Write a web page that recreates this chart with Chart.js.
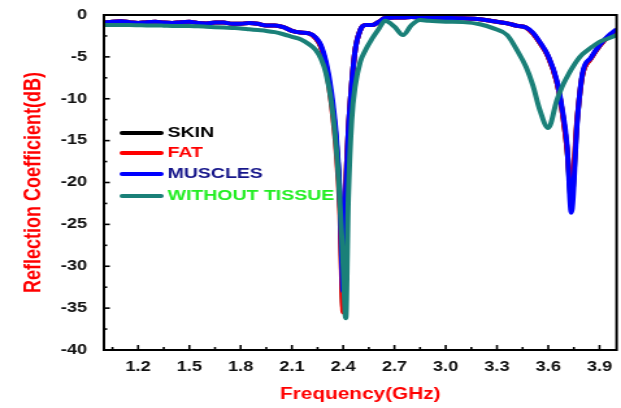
<!DOCTYPE html>
<html>
<head>
<meta charset="utf-8">
<script src="https://cdn.jsdelivr.net/npm/chart.js@4"></script>
<style>
  html, body { margin: 0; padding: 0; background: #fff; }
</style>
</head>
<body>
<!-- the source figure is stretched sideways, so the canvas is drawn narrow and widened by its style -->
<canvas id="chart" width="478" height="408" style="display:block;width:621px;height:408px"></canvas>
<script>
const freq = [
  1.00, 1.05, 1.10, 1.15, 1.20, 1.25, 1.30, 1.35, 1.40, 1.45,
  1.50, 1.55, 1.60, 1.65, 1.70, 1.75, 1.80, 1.85, 1.90, 1.95,
  2.00, 2.05, 2.10, 2.15, 2.20, 2.24, 2.27, 2.30, 2.33, 2.36,
  2.38, 2.40, 2.415, 2.43, 2.45, 2.47, 2.50, 2.53, 2.57, 2.61,
  2.645, 2.70, 2.75, 2.80, 2.85, 2.90, 3.00, 3.10, 3.20, 3.28,
  3.36, 3.42, 3.47, 3.51, 3.55, 3.60, 3.65, 3.68, 3.71, 3.735,
  3.77, 3.80, 3.85, 3.90, 3.95, 4.00
]

const skin = [
  -0.9, -0.8, -0.75, -0.85, -0.95, -0.85, -0.8, -0.9, -0.95, -0.85,
  -0.8, -0.95, -1.0, -0.9, -0.9, -1.05, -1.05, -0.95, -1.05, -1.25,
  -1.25, -1.45, -1.9, -2.1, -2.2, -2.8, -3.8, -6.0, -9.8, -15.2,
  -21.5, -35.0, -21, -14, -8.2, -4.2, -1.8, -1.2, -1.2, -0.8,
  -0.35, -0.3, -0.3, -0.25, -0.3, -0.3, -0.35, -0.4, -0.5, -0.75,
  -1.0, -1.3, -1.5, -2.2, -3.3, -5.0, -8.0, -11.3, -16, -22,
  -12.4, -7.2, -5.2, -3.7, -2.6, -1.8
]

const fat = [
  -0.9, -0.8, -0.75, -0.85, -0.95, -0.85, -0.8, -0.9, -0.95, -0.85,
  -0.8, -0.95, -1.0, -0.9, -0.9, -1.05, -1.05, -0.95, -1.05, -1.25,
  -1.25, -1.45, -1.9, -2.1, -2.2, -2.8, -3.8, -6.4, -10.5, -16.5,
  -23, -35.5, -21, -14, -8.2, -4.2, -1.8, -1.2, -1.2, -0.8,
  -0.35, -0.3, -0.3, -0.25, -0.3, -0.3, -0.35, -0.4, -0.5, -0.75,
  -1.0, -1.3, -1.5, -2.2, -3.3, -5.0, -8.0, -11.3, -16, -21,
  -12.2, -7.2, -5.2, -3.7, -2.6, -1.8
]

const muscles = [
  -0.9, -0.8, -0.75, -0.85, -0.95, -0.85, -0.8, -0.9, -0.95, -0.85,
  -0.8, -0.95, -1.0, -0.9, -0.9, -1.05, -1.05, -0.95, -1.05, -1.25,
  -1.25, -1.45, -1.9, -2.1, -2.2, -2.7, -3.6, -5.6, -9.0, -14.5,
  -21, -33, -21.5, -14, -8.2, -4.2, -1.8, -1.2, -1.2, -0.8,
  -0.35, -0.3, -0.3, -0.25, -0.3, -0.3, -0.35, -0.4, -0.5, -0.75,
  -1.0, -1.3, -1.5, -2.1, -3.2, -4.9, -7.8, -11.0, -15.5, -23.6,
  -12.6, -7.0, -5.1, -3.6, -2.5, -1.7
]

const withoutTissue = [
  -1.2, -1.2, -1.2, -1.2, -1.22, -1.25, -1.25, -1.27, -1.3, -1.3,
  -1.32, -1.35, -1.4, -1.45, -1.5, -1.55, -1.6, -1.7, -1.8, -1.9,
  -2.05, -2.3, -2.6, -2.9, -3.5, -4.2, -5.2, -7.0, -10.3, -16,
  -22, -30, -36.2, -22, -12.5, -8.5, -5.6, -4.2, -2.8, -1.6,
  -0.7, -1.4, -2.4, -1.2, -0.6, -0.7, -0.8, -0.85, -1.1, -1.6,
  -2.4, -4.3, -6.2, -8.4, -11.3, -13.5, -10.2, -8.6, -7.4, -6.5,
  -5.4, -4.7, -3.9, -3.2, -2.8, -2.4
]

const xTickLabels = [1.2, 1.5, 1.8, 2.1, 2.4, 2.7, 3.0, 3.3, 3.6, 3.9]
const yTickLabels = [0, -5, -10, -15, -20, -25, -30, -35, -40]

const FONT = "'Liberation Sans', Arial, sans-serif"

// order: lower numbers are painted on top
const SERIES = [
  { label: "SKIN", values: skin, line: "#000000", text: "#000000", order: 4 },
  { label: "FAT", values: fat, line: "#ff0000", text: "#ff0000", order: 3 },
  { label: "MUSCLES", values: muscles, line: "#0000ff", text: "#16168a", order: 2 },
  { label: "WITHOUT TISSUE", values: withoutTissue, line: "#1a8078", text: "#22ee22", order: 1 },
]

const toPoints = (ys) => freq.map((f, i) => ({ x: f, y: ys[i] }))

// box round the plot, ticks pointing inwards, and the legend inside the plot
const framePlugin = {
  id: "frame",
  afterDraw(chart) {
    const { ctx, chartArea: a, scales: { x, y } } = chart
    ctx.save()
    ctx.strokeStyle = "#000"
    ctx.lineWidth = 1.6
    for (let k = 7; k <= 26; k++) {
      const px = x.getPixelForValue(k * 0.15)
      const len = k % 2 === 0 ? 5 : 3
      ctx.beginPath()
      ctx.moveTo(px, a.bottom)
      ctx.lineTo(px, a.bottom - len)
      ctx.stroke()
    }
    for (let k = 1; k < 16; k++) {
      const py = y.getPixelForValue(-2.5 * k)
      const len = k % 2 === 0 ? 4.5 : 2.5
      ctx.beginPath()
      ctx.moveTo(a.left, py)
      ctx.lineTo(a.left + len, py)
      ctx.stroke()
    }
    ctx.lineWidth = 2
    ctx.strokeRect(a.left, a.top, a.right - a.left, a.bottom - a.top)

    ctx.font = `bold 15px ${FONT}`
    ctx.textBaseline = "middle"
    SERIES.forEach((s, i) => {
      const ly = [133, 153, 174, 196][i]
      ctx.strokeStyle = s.line
      ctx.lineWidth = 4
      ctx.lineCap = "round"
      ctx.beginPath()
      ctx.moveTo(94, ly)
      ctx.lineTo(124, ly)
      ctx.stroke()
      ctx.fillStyle = s.text
      ctx.fillText(s.label, 129, ly)
    })
    ctx.restore()
  },
}

new Chart(document.getElementById("chart"), {
  type: "line",
  data: {
    datasets: SERIES.map((s) => ({
      label: s.label,
      data: toPoints(s.values),
      borderColor: s.line,
      backgroundColor: s.line,
      order: s.order,
    })),
  },
  options: {
    responsive: false,
    devicePixelRatio: 1,
    animation: false,
    layout: { padding: { top: 15, right: 3.4, left: 0, bottom: 0 } },
    elements: {
      point: { radius: 0 },
      line: { borderWidth: 4, cubicInterpolationMode: "monotone", borderJoinStyle: "round" },
    },
    plugins: {
      legend: { display: false },
      tooltip: { enabled: false },
    },
    scales: {
      x: {
        type: "linear",
        min: 1.0,
        max: 4.0,
        afterBuildTicks: (s) => { s.ticks = xTickLabels.map((v) => ({ value: v })) },
        afterFit: (s) => { s.height = 58 },
        grid: { display: false },
        border: { display: false },
        ticks: {
          color: "#111",
          font: { family: FONT, size: 14, weight: "bold" },
          padding: 1,
          maxRotation: 0,
          autoSkip: false,
          callback: (v) => v.toFixed(1),
        },
        title: {
          display: true,
          text: "Frequency(GHz)",
          color: "#ff0000",
          font: { family: FONT, size: 16, weight: "bold" },
          padding: { top: 0, bottom: 4 },
        },
      },
      y: {
        min: -40,
        max: 0,
        afterBuildTicks: (s) => { s.ticks = yTickLabels.map((v) => ({ value: v })) },
        afterFit: (s) => { s.width = 80 },
        grid: { display: false },
        border: { display: false },
        ticks: {
          color: "#111",
          font: { family: FONT, size: 14, weight: "bold" },
          padding: 5,
        },
        title: {
          display: true,
          text: "Reflection Coefficient(dB)",
          color: "#ff0000",
          font: { family: FONT, size: 18, weight: "bold" },
          padding: { top: 15, bottom: 0 },
        },
      },
    },
  },
  plugins: [framePlugin],
})
</script>
</body>
</html>
